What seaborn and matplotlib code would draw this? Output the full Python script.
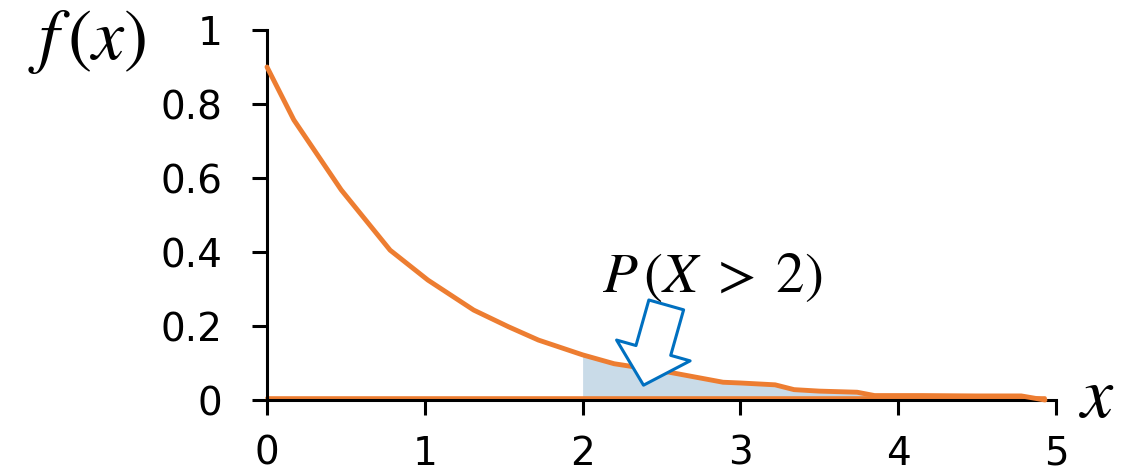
import numpy as np
import pandas as pd
import matplotlib
matplotlib.use("Agg")
import matplotlib.pyplot as plt
import seaborn as sns
from matplotlib.patches import FancyArrowPatch

# ---- data ----
x_vals = [0.0, 0.17, 0.47, 0.78, 1.02, 1.31, 1.53, 1.72, 2.0, 2.2, 2.55, 2.89,
          3.0, 3.22, 3.34, 3.5, 3.74, 3.85, 4.15, 4.5, 4.78, 4.93]
density = [0.90, 0.757, 0.568, 0.405, 0.324, 0.243, 0.198, 0.162, 0.122, 0.098,
           0.075, 0.048, 0.046, 0.041, 0.028, 0.024, 0.021, 0.012, 0.012, 0.011,
           0.011, 0.0]
baseline_x = [0.0, 4.93]
baseline_y = [0.005, 0.005]
shade_from = 2.0
x_ticks = [0, 1, 2, 3, 4, 5]
x_tick_labels = ["0", "1", "2", "3", "4", "5"]
y_ticks = [0, 0.2, 0.4, 0.6, 0.8, 1.0]
y_tick_labels = ["0", "0.2", "0.4", "0.6", "0.8", "1"]
y_label = "$f\\,(x)$"
x_label = "$x$"
annotation = "$P\\,(X\\;>\\;2)$"
arrow_tail = (2.53, 0.257)
arrow_tip = (2.386, 0.04)

ORANGE = "#ED7D31"
SHADE = "#C9DBE8"
BLUE = "#0070C0"

sns.set_theme(style="ticks")
plt.rcParams["font.family"] = ["DejaVu Sans"]
plt.rcParams["mathtext.fontset"] = "stix"
plt.rcParams["text.color"] = "black"

fig = plt.figure(figsize=(11.4, 4.72), dpi=100)
W, H = 1140, 472
ax = fig.add_axes([267 / W, 1 - 400 / H, (1056 - 267) / W, (400 - 30) / H])

df = pd.DataFrame({"x": x_vals, "y": density})
shade = df[df["x"] >= shade_from]
ax.fill_between(shade["x"], 0, shade["y"], color=SHADE, linewidth=0, zorder=1)

sns.lineplot(x=baseline_x, y=baseline_y, ax=ax, color=ORANGE, linewidth=2.6,
             zorder=2, clip_on=False)
sns.lineplot(data=df, x="x", y="y", ax=ax, color=ORANGE, linewidth=3.5,
             zorder=3, clip_on=False, sort=False)

arrow = FancyArrowPatch(posA=arrow_tail, posB=arrow_tip,
                        arrowstyle="simple,head_length=26,head_width=55,tail_width=26",
                        mutation_scale=1, shrinkA=0, shrinkB=0,
                        facecolor="white", edgecolor=BLUE, linewidth=2.2, zorder=5)
ax.add_patch(arrow)

ax.set_xlim(0, 5)
ax.set_ylim(0, 1)
ax.set_xticks(x_ticks)
ax.set_xticklabels(x_tick_labels)
ax.set_yticks(y_ticks)
ax.set_yticklabels(y_tick_labels)
ax.set_xlabel("")
ax.set_ylabel("")

for s in ["top", "right"]:
    ax.spines[s].set_visible(False)
for s in ["left", "bottom"]:
    ax.spines[s].set_color("black")
    ax.spines[s].set_linewidth(2.2)

ax.tick_params(axis="both", direction="out", length=11, width=2.2,
               colors="black", labelcolor="black", labelsize=28)
ax.tick_params(axis="y", pad=21)
ax.tick_params(axis="x", pad=14)
ax.set_facecolor("white")

fig.text(87 / W, 1 - 42 / H, y_label, ha="center", va="center", fontsize=52,
         color="black")
fig.text(1097 / W, 1 - 398 / H, x_label, ha="center", va="center", fontsize=52,
         color="black")
fig.text(712 / W, 1 - 277 / H, annotation, ha="center", va="center", fontsize=41,
         color="black")

fig.savefig("out.png", dpi=100, facecolor="white")
